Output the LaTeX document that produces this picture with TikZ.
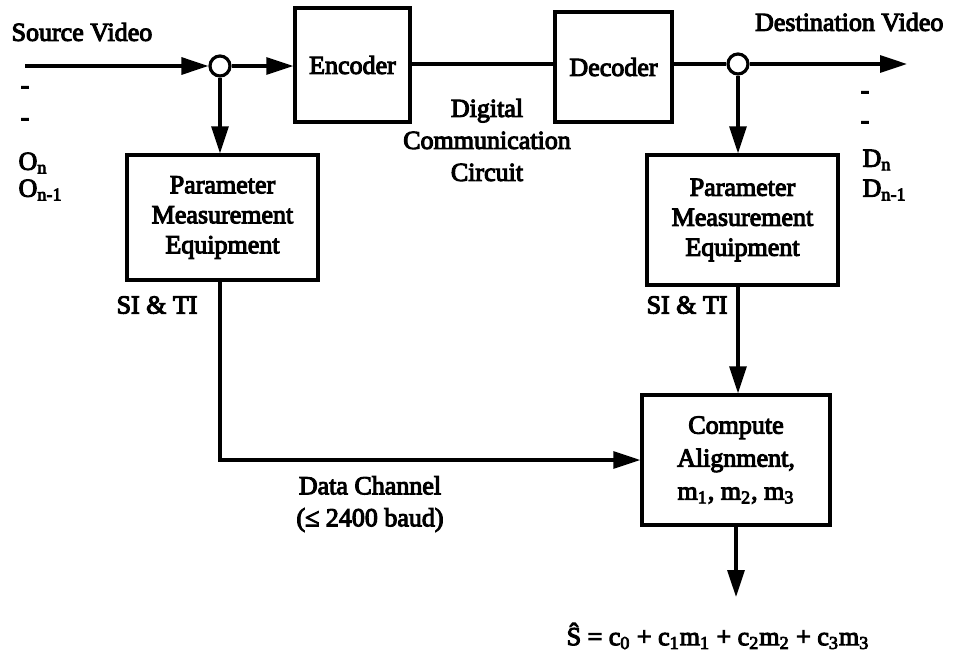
\documentclass[tikz,border=0pt]{standalone}
\usepackage{fontspec}
\setmainfont{Liberation Serif}[BoldFont={Liberation Serif}, BoldFeatures={FakeBold=4}]
\usetikzlibrary{arrows.meta}
\newcommand\dfont{\fontsize{13}{15}\selectfont\bfseries}
\begin{document}
\begin{tikzpicture}[x=0.5pt,y=-0.5pt, line width=1.6pt,
  box/.style={draw, line width=1.7pt, inner sep=0pt, align=center, font=\dfont},
  junc/.style={draw, circle, fill=white, minimum size=10pt, inner sep=0pt, line width=1.6pt},
  arr/.style={-{Triangle[length=13.5pt,width=8.5pt]}},
  lbl/.style={inner sep=0pt, font=\dfont, align=center}]
\useasboundingbox (0,0) rectangle (953,654);
% boxes
\node[box, minimum width=57.5pt, minimum height=57pt] (enc) at (352.5,65) {Encoder};
\node[box, minimum width=58.5pt, minimum height=55pt] (dec) at (613.5,67) {Decoder};
\node[box, minimum width=95.5pt, minimum height=62.5pt] (pme1) at (222.5,217.5) {Parameter\\Measurement\\Equipment};
\node[box, minimum width=95.5pt, minimum height=65pt] (pme2) at (742.5,220) {Parameter\\Measurement\\Equipment};
\node[box, minimum width=94pt, minimum height=65pt, font=\fontsize{13}{16.5}\selectfont\bfseries] (comp) at (736,460) {Compute\\Alignment,\\m\textsubscript{1}, m\textsubscript{2}, m\textsubscript{3}};
% junctions and free ends
\node[junc] (c1) at (220,66) {};
\node[junc] (c2) at (738,64) {};
\coordinate (src) at (25,66);
\coordinate (dst) at (907,64);
\coordinate (out) at (736,597);
% connectors
\draw[arr] (src) -- (c1);
\draw[arr] (c1) -- (c1 -| enc.west);
\draw (enc.east |- c2) -- (dec.west |- c2);
\draw (dec.east |- c2) -- (c2);
\draw[arr] (c2) -- (dst);
\draw[arr] (c1) -- (c1 |- pme1.north);
\draw[arr] (c2) -- (c2 |- pme2.north);
\draw[arr] (pme1.south -| c1) |- (comp.west);
\draw[arr] (pme2.south -| c2) -- (comp.north -| c2);
\draw[arr] (comp.south) -- (out);
% labels
\node[lbl, anchor=west] (srclbl) at (10,32) {Source Video};
\node[lbl, anchor=east] (dstlbl) at (945,22) {Destination Video};
\node[lbl] (ld1) at (25,90) {-};
\node[lbl] (ld2) at (25,122) {-};
\node[lbl, anchor=west] (on) at (17,163) {O\textsubscript{n}};
\node[lbl, anchor=west] (on1) at (17,190) {O\textsubscript{n-1}};
\node[lbl] (rd1) at (865,95) {-};
\node[lbl] (rd2) at (865,125) {-};
\node[lbl, anchor=west] (dn) at (861,160) {D\textsubscript{n}};
\node[lbl, anchor=west] (dn1) at (861,190) {D\textsubscript{n-1}};
\node[lbl, font=\fontsize{13}{16}\selectfont\bfseries] (dcc) at (487,140) {Digital\\Communication\\Circuit};
\node[lbl, anchor=west] (si1) at (115,305) {SI \& TI};
\node[lbl, anchor=west] (si2) at (645,305) {SI \& TI};
\node[lbl, font=\fontsize{13}{16}\selectfont\bfseries] (dch) at (370,504) {Data Channel\\(≤ 2400 baud)};
\node[lbl] (eq) at (718,636) {Ŝ = c\textsubscript{0} + c\textsubscript{1}m\textsubscript{1} + c\textsubscript{2}m\textsubscript{2} + c\textsubscript{3}m\textsubscript{3}};
\end{tikzpicture}
\end{document}
